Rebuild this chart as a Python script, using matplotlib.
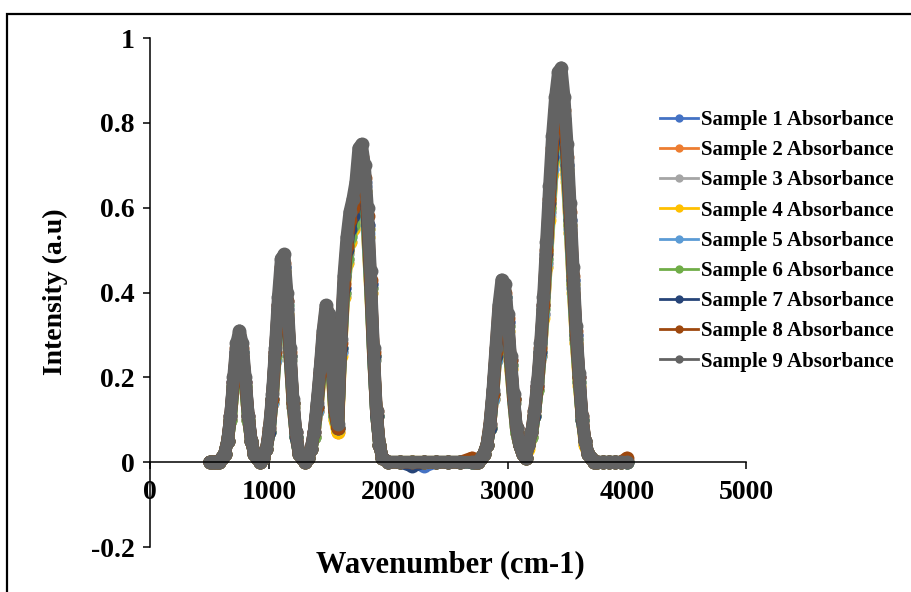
import matplotlib
matplotlib.use("Agg")
import matplotlib.pyplot as plt
from matplotlib.lines import Line2D
from matplotlib.patches import Rectangle
from matplotlib.ticker import FuncFormatter, MultipleLocator

plt.rcParams["font.family"] = "Liberation Serif"
plt.rcParams["font.weight"] = "bold"

# wavenumber grid (cm-1)
wavenumber = [
    500, 525, 550,
    575, 600, 625, 650, 675, 700, 725, 750, 775, 800,
    825, 850, 875, 900, 925, 950, 975, 1000, 1025, 1050,
    1075, 1100, 1125, 1150, 1175, 1200, 1225, 1250, 1275, 1300,
    1325, 1350, 1375, 1400, 1425, 1450, 1475, 1500, 1525, 1550,
    1575, 1600, 1625, 1650, 1675, 1700, 1725, 1750, 1775, 1800,
    1825, 1850, 1875, 1900, 1925, 1950,
    2000, 2100, 2200, 2300, 2400, 2500, 2600, 2700,
    2725, 2750, 2775, 2800, 2825, 2850, 2875, 2900, 2925, 2950,
    2975, 3000, 3025, 3050, 3075, 3100, 3125, 3150, 3175, 3200,
    3225, 3250, 3275, 3300, 3325, 3350, 3375, 3400, 3425, 3450,
    3475, 3500, 3525, 3550, 3575, 3600, 3625, 3650, 3675, 3700,
    3725,
    3750, 3800, 3850, 3900, 3950, 4000,
]

sample_1 = [
    0.00, 0.00, 0.00,
    0.00, 0.01, 0.02, 0.05, 0.10, 0.19, 0.26, 0.29, 0.26, 0.19,
    0.10, 0.05, 0.02, 0.01, 0.00, 0.01, 0.03, 0.07, 0.15, 0.25,
    0.36, 0.45, 0.46, 0.37, 0.25, 0.14, 0.07, 0.02, 0.01, 0.00,
    0.01, 0.03, 0.06, 0.13, 0.20, 0.29, 0.34, 0.33, 0.23, 0.12,
    0.08, 0.27, 0.41, 0.49, 0.55, 0.58, 0.61, 0.69, 0.70, 0.65,
    0.56, 0.42, 0.25, 0.11, 0.04, 0.01,
    0.00, 0.00, 0.00, -0.01, 0.00, 0.00, 0.00, 0.00,
    0.00, 0.00, 0.01, 0.02, 0.04, 0.08, 0.16, 0.25, 0.34, 0.40,
    0.39, 0.33, 0.23, 0.15, 0.07, 0.04, 0.02, 0.01, 0.04, 0.07,
    0.11, 0.18, 0.26, 0.36, 0.48, 0.60, 0.72, 0.80, 0.86, 0.86,
    0.80, 0.70, 0.57, 0.43, 0.30, 0.20, 0.10, 0.05, 0.02, 0.01,
    0.00,
    0.00, 0.00, 0.00, 0.00, 0.00, 0.00,
]
sample_2 = [
    0.00, 0.00, 0.00,
    0.00, 0.01, 0.02, 0.05, 0.10, 0.18, 0.25, 0.28, 0.25, 0.18,
    0.10, 0.05, 0.02, 0.01, 0.00, 0.01, 0.03, 0.07, 0.14, 0.25,
    0.35, 0.44, 0.45, 0.36, 0.25, 0.13, 0.06, 0.02, 0.01, 0.00,
    0.01, 0.03, 0.06, 0.12, 0.20, 0.28, 0.34, 0.32, 0.23, 0.11,
    0.07, 0.26, 0.40, 0.48, 0.54, 0.56, 0.60, 0.67, 0.68, 0.64,
    0.55, 0.41, 0.25, 0.11, 0.04, 0.01,
    0.00, 0.00, 0.00, 0.00, 0.00, 0.00, 0.00, 0.00,
    0.00, 0.00, 0.01, 0.02, 0.04, 0.08, 0.15, 0.25, 0.34, 0.39,
    0.38, 0.32, 0.23, 0.15, 0.07, 0.04, 0.02, 0.01, 0.04, 0.06,
    0.11, 0.17, 0.25, 0.35, 0.47, 0.59, 0.70, 0.78, 0.84, 0.85,
    0.78, 0.68, 0.56, 0.42, 0.29, 0.19, 0.10, 0.05, 0.02, 0.01,
    0.00,
    0.00, 0.00, 0.00, 0.00, 0.00, 0.00,
]
sample_3 = [
    0.00, 0.00, 0.00,
    0.00, 0.01, 0.02, 0.05, 0.10, 0.18, 0.25, 0.28, 0.25, 0.18,
    0.10, 0.05, 0.02, 0.01, 0.00, 0.01, 0.03, 0.07, 0.14, 0.24,
    0.35, 0.43, 0.44, 0.36, 0.24, 0.13, 0.06, 0.02, 0.01, 0.00,
    0.01, 0.03, 0.06, 0.12, 0.20, 0.28, 0.33, 0.31, 0.22, 0.11,
    0.08, 0.26, 0.39, 0.47, 0.52, 0.55, 0.59, 0.66, 0.67, 0.62,
    0.53, 0.40, 0.24, 0.11, 0.04, 0.01,
    0.00, 0.00, 0.00, 0.00, 0.00, 0.00, 0.00, 0.00,
    0.00, 0.00, 0.01, 0.02, 0.04, 0.08, 0.15, 0.24, 0.33, 0.38,
    0.37, 0.31, 0.22, 0.14, 0.07, 0.04, 0.02, 0.01, 0.04, 0.06,
    0.11, 0.17, 0.25, 0.35, 0.46, 0.58, 0.69, 0.77, 0.82, 0.83,
    0.77, 0.67, 0.54, 0.41, 0.28, 0.19, 0.10, 0.04, 0.02, 0.01,
    0.00,
    0.00, 0.00, 0.00, 0.00, 0.00, 0.00,
]
sample_4 = [
    0.00, 0.00, 0.00,
    0.00, 0.01, 0.02, 0.05, 0.10, 0.18, 0.24, 0.27, 0.24, 0.18,
    0.10, 0.05, 0.02, 0.01, 0.00, 0.01, 0.03, 0.07, 0.14, 0.24,
    0.34, 0.42, 0.43, 0.35, 0.24, 0.13, 0.06, 0.02, 0.01, 0.00,
    0.01, 0.03, 0.06, 0.12, 0.19, 0.27, 0.33, 0.31, 0.22, 0.10,
    0.07, 0.25, 0.39, 0.47, 0.52, 0.55, 0.58, 0.65, 0.66, 0.62,
    0.53, 0.40, 0.24, 0.11, 0.04, 0.01,
    0.00, 0.00, 0.00, 0.00, 0.00, 0.00, 0.00, 0.00,
    0.00, 0.00, 0.01, 0.02, 0.04, 0.08, 0.15, 0.24, 0.33, 0.38,
    0.37, 0.31, 0.22, 0.14, 0.07, 0.04, 0.02, 0.01, 0.03, 0.06,
    0.11, 0.17, 0.25, 0.34, 0.46, 0.57, 0.68, 0.76, 0.81, 0.82,
    0.76, 0.66, 0.54, 0.40, 0.28, 0.18, 0.10, 0.04, 0.02, 0.01,
    0.00,
    0.00, 0.00, 0.00, 0.00, 0.00, 0.00,
]
sample_5 = [
    0.00, 0.00, 0.00,
    0.00, 0.01, 0.02, 0.05, 0.10, 0.18, 0.25, 0.28, 0.25, 0.18,
    0.10, 0.05, 0.02, 0.01, 0.00, 0.01, 0.03, 0.07, 0.14, 0.24,
    0.35, 0.43, 0.44, 0.36, 0.24, 0.13, 0.06, 0.02, 0.01, 0.00,
    0.01, 0.03, 0.06, 0.12, 0.20, 0.28, 0.33, 0.32, 0.22, 0.11,
    0.08, 0.26, 0.40, 0.48, 0.53, 0.56, 0.59, 0.67, 0.68, 0.63,
    0.54, 0.41, 0.24, 0.11, 0.04, 0.01,
    0.00, 0.00, 0.00, 0.00, 0.00, 0.00, 0.00, 0.00,
    0.00, 0.00, 0.01, 0.02, 0.04, 0.08, 0.15, 0.24, 0.33, 0.39,
    0.38, 0.32, 0.23, 0.14, 0.07, 0.04, 0.02, 0.01, 0.04, 0.06,
    0.11, 0.17, 0.25, 0.35, 0.47, 0.59, 0.69, 0.77, 0.83, 0.84,
    0.77, 0.68, 0.55, 0.41, 0.29, 0.19, 0.10, 0.05, 0.02, 0.01,
    0.00,
    0.00, 0.00, 0.00, 0.00, 0.00, 0.00,
]
sample_6 = [
    0.00, 0.00, 0.00,
    0.00, 0.01, 0.02, 0.05, 0.10, 0.18, 0.25, 0.29, 0.26, 0.18,
    0.10, 0.05, 0.02, 0.01, 0.00, 0.01, 0.03, 0.07, 0.15, 0.25,
    0.36, 0.44, 0.45, 0.37, 0.25, 0.14, 0.06, 0.02, 0.01, 0.00,
    0.01, 0.03, 0.06, 0.13, 0.20, 0.29, 0.34, 0.32, 0.23, 0.11,
    0.08, 0.27, 0.40, 0.48, 0.53, 0.56, 0.60, 0.67, 0.69, 0.64,
    0.55, 0.41, 0.25, 0.11, 0.04, 0.01,
    0.00, 0.00, 0.00, 0.00, 0.00, 0.00, 0.00, 0.00,
    0.00, 0.00, 0.01, 0.02, 0.04, 0.08, 0.16, 0.25, 0.34, 0.40,
    0.39, 0.32, 0.23, 0.15, 0.07, 0.04, 0.02, 0.01, 0.04, 0.06,
    0.11, 0.17, 0.26, 0.36, 0.48, 0.60, 0.71, 0.79, 0.85, 0.86,
    0.79, 0.69, 0.56, 0.42, 0.29, 0.19, 0.10, 0.05, 0.02, 0.01,
    0.00,
    0.00, 0.00, 0.00, 0.00, 0.00, 0.00,
]
sample_7 = [
    0.00, 0.00, 0.00,
    0.00, 0.01, 0.02, 0.05, 0.11, 0.19, 0.26, 0.29, 0.26, 0.19,
    0.11, 0.05, 0.02, 0.01, 0.00, 0.01, 0.03, 0.07, 0.15, 0.26,
    0.37, 0.45, 0.46, 0.38, 0.25, 0.14, 0.06, 0.02, 0.01, 0.00,
    0.01, 0.03, 0.07, 0.13, 0.21, 0.29, 0.35, 0.33, 0.24, 0.12,
    0.08, 0.27, 0.41, 0.50, 0.55, 0.58, 0.62, 0.69, 0.70, 0.66,
    0.56, 0.42, 0.25, 0.11, 0.04, 0.01,
    0.00, 0.00, -0.01, 0.00, 0.00, 0.00, 0.00, 0.00,
    0.00, 0.00, 0.01, 0.02, 0.04, 0.08, 0.16, 0.25, 0.35, 0.40,
    0.39, 0.33, 0.24, 0.15, 0.08, 0.04, 0.02, 0.01, 0.04, 0.07,
    0.11, 0.18, 0.26, 0.37, 0.49, 0.61, 0.72, 0.81, 0.86, 0.87,
    0.81, 0.70, 0.57, 0.43, 0.30, 0.20, 0.10, 0.05, 0.02, 0.01,
    0.00,
    0.00, 0.00, 0.00, 0.00, 0.00, 0.00,
]
sample_8 = [
    0.00, 0.00, 0.00,
    0.00, 0.01, 0.02, 0.05, 0.11, 0.19, 0.27, 0.30, 0.27, 0.19,
    0.11, 0.05, 0.02, 0.01, 0.00, 0.01, 0.03, 0.08, 0.15, 0.26,
    0.37, 0.46, 0.47, 0.38, 0.26, 0.14, 0.07, 0.02, 0.01, 0.00,
    0.01, 0.03, 0.07, 0.13, 0.21, 0.30, 0.36, 0.34, 0.24, 0.12,
    0.08, 0.28, 0.42, 0.51, 0.57, 0.60, 0.63, 0.71, 0.72, 0.67,
    0.58, 0.43, 0.26, 0.12, 0.04, 0.01,
    0.00, 0.00, 0.00, 0.00, 0.00, 0.00, 0.00, 0.01,
    0.00, 0.00, 0.01, 0.02, 0.04, 0.09, 0.16, 0.26, 0.36, 0.41,
    0.40, 0.34, 0.24, 0.15, 0.08, 0.04, 0.02, 0.01, 0.04, 0.07,
    0.12, 0.18, 0.27, 0.37, 0.50, 0.62, 0.74, 0.83, 0.88, 0.89,
    0.83, 0.72, 0.59, 0.44, 0.31, 0.20, 0.11, 0.05, 0.02, 0.01,
    0.00,
    0.00, 0.00, 0.00, 0.00, 0.00, 0.01,
]
sample_9 = [
    0.00, 0.00, 0.00,
    0.00, 0.01, 0.02, 0.05, 0.11, 0.20, 0.28, 0.31, 0.28, 0.20,
    0.11, 0.05, 0.02, 0.01, 0.00, 0.01, 0.03, 0.08, 0.16, 0.27,
    0.39, 0.48, 0.49, 0.40, 0.27, 0.15, 0.07, 0.02, 0.01, 0.00,
    0.01, 0.03, 0.07, 0.14, 0.22, 0.31, 0.37, 0.35, 0.25, 0.13,
    0.09, 0.29, 0.44, 0.53, 0.59, 0.62, 0.66, 0.74, 0.75, 0.70,
    0.60, 0.45, 0.27, 0.12, 0.04, 0.01,
    0.00, 0.00, 0.00, 0.00, 0.00, 0.00, 0.00, 0.00,
    0.00, 0.00, 0.01, 0.02, 0.04, 0.09, 0.17, 0.27, 0.37, 0.43,
    0.42, 0.35, 0.25, 0.16, 0.08, 0.04, 0.02, 0.01, 0.04, 0.07,
    0.12, 0.19, 0.28, 0.39, 0.52, 0.65, 0.77, 0.86, 0.92, 0.93,
    0.86, 0.75, 0.61, 0.46, 0.32, 0.21, 0.11, 0.05, 0.02, 0.01,
    0.00,
    0.00, 0.00, 0.00, 0.00, 0.00, 0.00,
]

samples = [sample_1, sample_2, sample_3, sample_4, sample_5,
           sample_6, sample_7, sample_8, sample_9]
labels = ["Sample 1 Absorbance", "Sample 2 Absorbance", "Sample 3 Absorbance",
          "Sample 4 Absorbance", "Sample 5 Absorbance", "Sample 6 Absorbance",
          "Sample 7 Absorbance", "Sample 8 Absorbance", "Sample 9 Absorbance"]
colors = ["#4472C4", "#ED7D31", "#A5A5A5", "#FFC000", "#5B9BD5",
          "#70AD47", "#264478", "#9E480E", "#636363"]

fig = plt.figure(figsize=(9.11, 5.92), dpi=100)
ax = fig.add_axes([0.1647, 0.076, 0.6542, 0.8598])

for ys, c in zip(samples, colors):
    ax.plot(wavenumber, ys, color=c, lw=9, marker="o", ms=10, mew=0,
            solid_joinstyle="round", solid_capstyle="round")

ax.set_xlim(0, 5000)
ax.set_ylim(-0.2, 1.0)
ax.xaxis.set_major_locator(MultipleLocator(1000))
ax.yaxis.set_major_locator(MultipleLocator(0.2))
ax.yaxis.set_major_formatter(FuncFormatter(lambda v, p: f"{v:g}"))
ax.xaxis.set_major_formatter(FuncFormatter(lambda v, p: f"{v:g}"))

ax.spines["top"].set_visible(False)
ax.spines["right"].set_visible(False)
ax.spines["bottom"].set_position(("data", 0))
for s in ("left", "bottom"):
    ax.spines[s].set_linewidth(1.1)
    ax.spines[s].set_color("black")

ax.tick_params(axis="both", direction="out", length=5, width=1.1, labelsize=20)
ax.tick_params(axis="x", pad=8)
ax.tick_params(axis="y", pad=6)

fig.text(450 / 911, 1 - 565 / 592, "Wavenumber (cm-1)", ha="center", va="center",
         fontsize=22, fontweight="bold")
fig.text(55 / 911, 1 - 292 / 592, "Intensity (a.u)", ha="center", va="center",
         rotation=90, fontsize=20, fontweight="bold")

handles = [Line2D([], [], color=c, lw=2, marker="o", ms=6, mew=0) for c in colors]
fig.legend(handles, labels, loc="upper left",
           bbox_to_anchor=(660 / 911, 1 - 110 / 592), frameon=False,
           fontsize=15, handlelength=1.8, handletextpad=0.15,
           labelspacing=0.49, borderpad=0, borderaxespad=0)

# outer frame like the pasted chart border
fig.add_artist(Rectangle((7 / 911, -0.1), 1.2, 1 - 14 / 592 + 0.1,
                         transform=fig.transFigure, fill=False,
                         edgecolor="black", lw=1.6))

fig.savefig("out.png", dpi=100)
